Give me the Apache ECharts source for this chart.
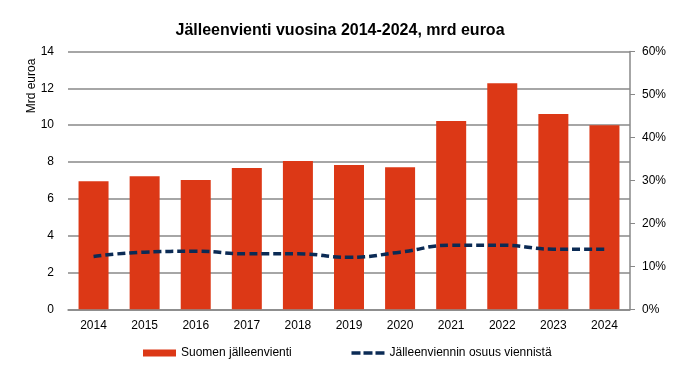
<!DOCTYPE html>
<html>
<head>
<meta charset="utf-8">
<script src="https://cdn.jsdelivr.net/npm/echarts@6/dist/echarts.min.js"></script>
<style>
  html, body { margin: 0; padding: 0; background: #fff; }
  #chart { width: 680px; height: 378px; }
</style>
</head>
<body>
<div id="chart"></div>
<script>
// years on the x axis
var years = ['2014', '2015', '2016', '2017', '2018', '2019', '2020', '2021', '2022', '2023', '2024'];
// re-exports, billion euros
var reexports = [6.96, 7.23, 7.02, 7.67, 8.05, 7.83, 7.72, 10.22, 12.28, 10.6, 10.0];
// share of re-exports in total exports, %
var reexportShare = [12.3, 13.3, 13.5, 12.9, 12.9, 12.1, 13.3, 14.9, 14.9, 14.0, 14.0];

var myChart = echarts.init(document.getElementById('chart'));

var font = 'Liberation Sans, Arial, sans-serif';

var option = {
  animation: false,
  title: {
    text: 'Jälleenvienti vuosina 2014-2024, mrd euroa',
    left: 'center',
    top: 18,
    textStyle: { fontFamily: font, fontSize: 16, fontWeight: 'bold', color: '#000' }
  },
  graphic: [{
    type: 'text',
    x: 32,
    y: 86,
    rotation: Math.PI / 2,
    style: {
      text: 'Mrd euroa',
      fontFamily: font,
      fontSize: 12,
      fill: '#000',
      align: 'center',
      verticalAlign: 'middle'
    }
  }],
  legend: {
    bottom: 14,
    left: 138,
    itemGap: 58,
    itemWidth: 33,
    itemHeight: 7,
    textStyle: { fontFamily: font, fontSize: 12, color: '#000' },
    data: [
      { name: 'Suomen jälleenvienti', icon: 'rect' },
      {
        name: 'Jälleenviennin osuus viennistä',
        itemStyle: { opacity: 0 },
        lineStyle: { type: [9, 3], width: 3.5 }
      }
    ]
  },
  grid: { left: 68, right: 50, top: 51.5, bottom: 68.7 },
  xAxis: {
    type: 'category',
    data: years,
    axisLine: { lineStyle: { color: '#888', width: 1.5 } },
    axisTick: { show: false },
    axisLabel: { fontFamily: font, fontSize: 12, color: '#000', margin: 10 }
  },
  yAxis: [{
    type: 'value',
    min: 0,
    max: 14,
    interval: 2,
    axisLine: { show: false },
    axisTick: { show: false },
    axisLabel: { fontFamily: font, fontSize: 12, color: '#000', margin: 14 },
    splitLine: { lineStyle: { color: '#888', width: 1.5 } }
  }, {
    type: 'value',
    min: 0,
    max: 60,
    interval: 10,
    position: 'right',
    axisLine: { show: true, lineStyle: { color: '#888', width: 1.5 } },
    axisTick: { show: true, length: 5, lineStyle: { color: '#888' } },
    axisLabel: { fontFamily: font, fontSize: 12, color: '#000', margin: 12, formatter: '{value}%' },
    splitLine: { show: false }
  }],
  series: [{
    name: 'Suomen jälleenvienti',
    type: 'bar',
    data: reexports,
    barWidth: 30,
    itemStyle: { color: '#DC3816' }
  }, {
    name: 'Jälleenviennin osuus viennistä',
    type: 'line',
    yAxisIndex: 1,
    data: reexportShare,
    smooth: true,
    symbol: 'none',
    lineStyle: { color: '#0B2B55', width: 3.5, type: [8, 4] },
    itemStyle: { color: '#0B2B55' }
  }]
};

myChart.setOption(option);
</script>
</body>
</html>
